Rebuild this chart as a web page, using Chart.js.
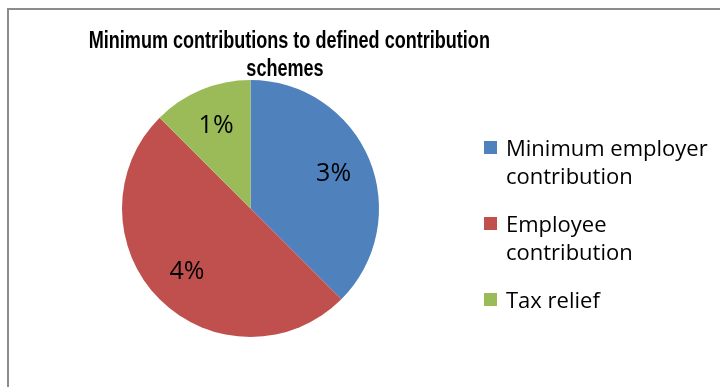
<!DOCTYPE html>
<html>
<head>
<meta charset="utf-8">
<script src="https://cdn.jsdelivr.net/npm/chart.js@4.4.1/dist/chart.umd.min.js"></script>
<style>
    body { margin: 0; background: #fff; }
    #contenedor { position: relative; width: 720px; height: 387px; overflow: hidden; }
    #marco { position: absolute; left: 7px; top: 8px; width: 760px; height: 420px; border: 2px solid #8c8c8c; box-sizing: border-box; }
    #titulo { position: absolute; left: 35px; width: 500px; top: 26px; text-align: center; white-space: nowrap;
              font: bold 23px "Liberation Sans", Arial, sans-serif; line-height: 28px; color: #000;
              transform: scaleX(0.785); transform-origin: 250px 0; }
    #leyenda { position: absolute; left: 484px; top: 133px; width: 234px;
               font: 22px "Open Sans", "Noto Sans", sans-serif; line-height: 28px; color: #000; }
    .item { display: flex; align-items: flex-start; margin-bottom: 20px; }
    .cuadro { width: 13px; height: 13px; margin-top: 8px; margin-right: 9px; flex: none; }
    canvas { position: absolute; left: 0; top: 0; }
</style>
</head>
<body>
<div id="contenedor">
    <div id="marco"></div>
    <canvas id="graficoPastel" width="720" height="387"></canvas>
    <div id="titulo">Minimum contributions to defined contribution<br>schemes</div>
    <div id="leyenda"></div>
</div>
<script>
// Datos del gráfico (porcentajes)
const categorias = ['Minimum employer contribution', 'Employee contribution', 'Tax relief'];
const valores = [3, 4, 1];
const etiquetas = ['3%', '4%', '1%'];
const colores = ['#4F81BD', '#C0504D', '#9BBB59'];

// Construye la leyenda a partir de las categorías
function construirLeyenda() {
    const leyenda = document.getElementById('leyenda');
    categorias.forEach((nombre, i) => {
        const item = document.createElement('div');
        item.className = 'item';
        item.innerHTML = '<span class="cuadro" style="background:' + colores[i] + '"></span><span>' + nombre + '</span>';
        leyenda.appendChild(item);
    });
}

// Plugin para escribir el porcentaje dentro de cada porción
const etiquetasPorcion = {
    id: 'etiquetasPorcion',
    afterDatasetsDraw(chart) {
        const ctx = chart.ctx;
        const meta = chart.getDatasetMeta(0);
        ctx.save();
        ctx.font = '25px "Open Sans", "Noto Sans", sans-serif';
        ctx.fillStyle = '#000';
        ctx.textAlign = 'center';
        ctx.textBaseline = 'middle';
        meta.data.forEach((arco, i) => {
            const medio = (arco.startAngle + arco.endAngle) / 2;
            const r = arco.outerRadius * 0.7;
            ctx.fillText(etiquetas[i], arco.x + Math.cos(medio) * r, arco.y + Math.sin(medio) * r);
        });
        ctx.restore();
    }
};

construirLeyenda();

const ctxPastel = document.getElementById('graficoPastel');
const graficoPastel = new Chart(ctxPastel, {
    type: 'pie',
    data: {
        labels: categorias,
        datasets: [{
            data: valores,
            backgroundColor: colores,
            borderWidth: 0
        }]
    },
    options: {
        responsive: false,
        animation: false,
        layout: { padding: { left: 122, right: 341, top: 80, bottom: 50 } },
        plugins: {
            legend: { display: false },
            tooltip: { enabled: false }
        }
    },
    plugins: [etiquetasPorcion]
});
</script>
</body>
</html>
